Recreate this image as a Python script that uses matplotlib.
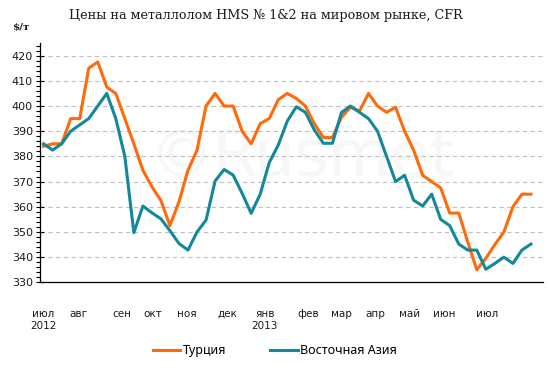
import matplotlib
matplotlib.use("Agg")
import matplotlib.pyplot as plt
from matplotlib.ticker import MultipleLocator

# weekly prices, $/t (Jul 2012 - Jul 2013)
turkey = [384, 385, 385, 395, 395, 415, 417.5, 407.5, 405, 395,
          385, 374.5, 368, 362.5, 352.5, 362, 374.5, 382.5, 400, 405,
          400, 400, 390, 385, 393, 395, 402.5, 405, 403, 400,
          393, 387.5, 387.5, 395.5, 399.5, 398, 405, 400, 397.5, 399.5,
          390, 382.5, 372.5, 370, 367.5, 357.5, 357.5, 346, 335, 339.5,
          345, 350, 360, 365, 365]
east_asia = [385, 382.5, 385, 390, 392.5, 395, 400, 405, 395, 380,
             349.7, 360.3, 357.6, 355.2, 350.5, 345.4, 342.8, 350, 354.7, 370.2,
             374.8, 372.6, 365.3, 357.4, 365, 377.5, 384.5, 394, 399.7, 397.5,
             390.5, 385.2, 385.2, 397.4, 400, 397.5, 395, 390, 380, 370,
             372.5, 362.6, 360.3, 365, 355, 352.5, 345.2, 342.8, 342.8, 335.2,
             337.5, 340, 337.5, 342.8, 345.2]
month_labels = ["июл\n2012", "авг", "сен", "окт", "ноя", "дек", "янв\n2013",
                "фев", "мар", "апр", "май", "июн", "июл"]
month_pos = [0, 3.9, 8.7, 12.1, 15.9, 20.4, 24.5, 29.3, 33.0, 36.8, 40.6, 44.4, 49.1]

weeks = list(range(len(turkey)))

fig = plt.figure(figsize=(5.5, 3.71), dpi=100)
ax = fig.add_axes([0.0727, 0.239, 0.914, 0.645])

# faint watermark
ax.text(0.52, 0.52, "©Rusmet", transform=ax.transAxes, ha="center", va="center",
        fontsize=46, color="#f7f7f7", zorder=0)

ax.plot(weeks, turkey, color="#FF6A0A", lw=2.2, label="Турция", zorder=3)
ax.plot(weeks, east_asia, color="#12889A", lw=2.2, label="Восточная Азия", zorder=3)

ax.set_xlim(-0.4, 55.3)
ax.set_ylim(330, 425)
ax.yaxis.set_minor_locator(MultipleLocator(2))
ax.set_yticks(range(330, 421, 10))
ax.grid(axis="y", color="#c0c0c0", lw=0.8, ls=(0, (4, 3)))
ax.set_axisbelow(True)

ax.set_xticks(month_pos)
ax.set_xticklabels(month_labels, fontsize=7.5, linespacing=1.25, color="#1a1a1a")
ax.tick_params(axis="x", length=0, pad=19)
ax.tick_params(axis="y", which="major", direction="inout", length=6, width=0.8,
               labelsize=8, labelcolor="#1a1a1a", pad=2)
ax.tick_params(axis="y", which="minor", direction="out", length=3, width=0.8)

for s in ["top", "right"]:
    ax.spines[s].set_visible(False)
ax.spines["left"].set_linewidth(0.9)
ax.spines["bottom"].set_linewidth(0.9)

fig.text(0.483, 0.958, "Цены на металлолом HMS № 1&2 на мировом рынке, CFR",
         ha="center", va="center", fontsize=9.2, family="DejaVu Serif", color="#1a1a1a")
fig.text(0.022, 0.927, "$/т", ha="left", va="center", fontsize=7.5,
         family="DejaVu Serif", weight="bold", color="#1a1a1a")

fig.legend(loc="center", bbox_to_anchor=(0.5, 0.054), ncol=2, frameon=False,
           handlelength=2.2, handletextpad=0.2, columnspacing=3.5,
           prop={"family": "Noto Sans", "size": 9})

fig.savefig("out.png", dpi=100)
